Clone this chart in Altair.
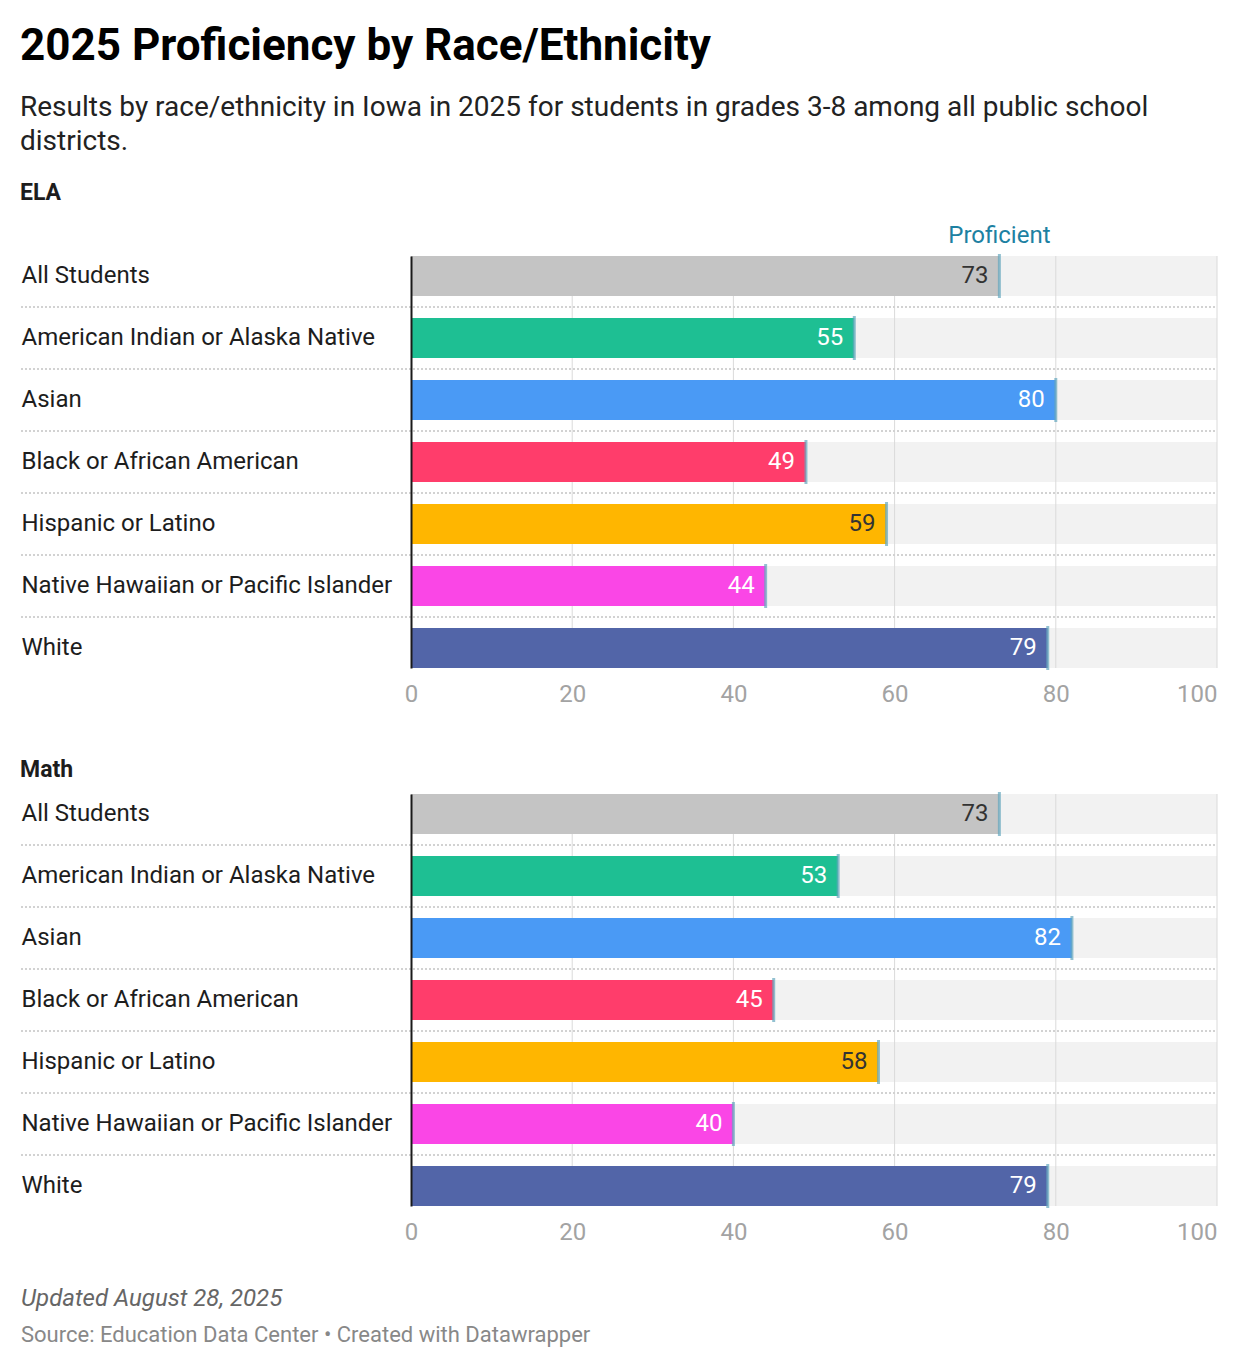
import altair as alt
import pandas as pd

groups = ["All Students", "American Indian or Alaska Native", "Asian",
          "Black or African American", "Hispanic or Latino",
          "Native Hawaiian or Pacific Islander", "White"]
ela_values = [73, 55, 80, 49, 59, 44, 79]
math_values = [73, 53, 82, 45, 58, 40, 79]
bar_colors = ["#c4c4c4", "#1ebf93", "#4a9af5", "#ff3d6b", "#ffb600", "#fa46e6", "#5265a8"]
label_colors = ["#333333", "#ffffff", "#ffffff", "#ffffff", "#333333", "#ffffff", "#ffffff"]
grid_ticks = [20, 40, 60, 80, 100]
axis_ticks = [0, 20, 40, 60, 80, 100]
footer_note = "Updated August 28, 2025"
footer_source = "Source: Education Data Center \u2022 Created with Datawrapper"

W = 806
H = 412
FONT = "Roboto"
MARKER = "#64a6be"


def panel(name, values, show_prof, show_footer):
    df = pd.DataFrame({"group": groups, "value": values, "color": bar_colors,
                       "lcolor": label_colors, "full": [100] * len(groups)})
    grid_df = pd.DataFrame({"g": grid_ticks})
    yenc = alt.Y("group:N", sort=groups,
                 scale=alt.Scale(paddingInner=22 / 62, paddingOuter=0),
                 axis=alt.Axis(title=None, ticks=False, domain=True, domainColor="#1a1a1a",
                               domainWidth=2, labelAlign="left", labelPadding=390,
                               labelFontSize=24, labelColor="#1d1d1d", labelLimit=400,
                               labelFont=FONT, zindex=1))
    xenc_axis = alt.Axis(title=None, values=axis_ticks, grid=False, domain=False, ticks=False,
                         labelFontSize=24, labelColor="#a3a3a3", labelPadding=14, labelFont=FONT,
                         labelAlign={"condition": {"test": "datum.value === 100", "value": "right"},
                                     "value": "center"})
    xscale = alt.Scale(domain=[0, 100], nice=False, zero=True)
    base = alt.Chart(df)
    bg = base.mark_bar(color="#f2f2f2").encode(
        x=alt.X("full:Q", scale=xscale, axis=xenc_axis), y=yenc)
    grid = alt.Chart(grid_df).mark_rule(color="#dadada", strokeWidth=1).encode(
        x=alt.X("g:Q", scale=xscale))
    sep = base.transform_filter(alt.datum.group != groups[-1]).mark_rule(
        color="#d2d2d2", strokeWidth=2, strokeDash=[2, 2], yOffset=31).encode(
        y=alt.Y("group:N", sort=groups), x=alt.value(-390), x2=alt.value(W))
    bars = base.mark_bar().encode(
        x=alt.X("value:Q", scale=xscale), y=alt.Y("group:N", sort=groups),
        color=alt.Color("color:N", scale=None))
    marker = base.mark_tick(color=MARKER, thickness=3, size=44).encode(
        x=alt.X("value:Q", scale=xscale), y=alt.Y("group:N", sort=groups))
    labels = base.mark_text(align="right", baseline="middle", dx=-11, fontSize=24,
                            font=FONT).encode(
        x=alt.X("value:Q", scale=xscale), y=alt.Y("group:N", sort=groups),
        text=alt.Text("value:Q"), color=alt.Color("lcolor:N", scale=None))
    layers = [bg, grid, sep, bars, marker, labels]
    if show_prof:
        prof = base.transform_filter(alt.datum.group == groups[0]).mark_text(
            align="center", baseline="middle", dy=-40, fontSize=24, font=FONT,
            color="#1d81a2").encode(
            x=alt.X("value:Q", scale=xscale), y=alt.Y("group:N", sort=groups),
            text=alt.value("Proficient"))
        layers.append(prof)
    if show_footer:
        foot_df = pd.DataFrame({"note": [footer_note], "source": [footer_source]})
        fbase = alt.Chart(foot_df)
        f1 = fbase.mark_text(align="left", baseline="middle", fontSize=24, fontStyle="italic",
                             font=FONT, color="#666666").encode(
            x=alt.value(-390), y=alt.value(H + 93), text="note:N")
        f2 = fbase.mark_text(align="left", baseline="middle", fontSize=22, font=FONT,
                             color="#888888").encode(
            x=alt.value(-390), y=alt.value(H + 129), text="source:N")
        layers += [f1, f2]
    return alt.layer(*layers).properties(
        width=W, height=H,
        title=alt.TitleParams(name, anchor="start", fontSize=23, fontWeight="bold",
                              font=FONT, color="#1d1d1d", offset=19 if show_prof else 10))


ela = panel("ELA", ela_values, True, False)
math = panel("Math", math_values, False, True)

chart = alt.vconcat(ela, math, spacing=53).properties(
    title=alt.TitleParams(
        "2025 Proficiency by Race/Ethnicity",
        subtitle=["Results by race/ethnicity in Iowa in 2025 for students in grades 3-8 among all public school",
                  "districts."],
        anchor="start", fontSize=44, fontWeight="bold", font=FONT, color="#000000",
        subtitleFontSize=28, subtitleFont=FONT, subtitleColor="#222222",
        subtitleLineHeight=34, subtitlePadding=25, offset=26, dx=0),
    padding={"left": 12, "top": 17, "right": 5, "bottom": 5},
    background="white",
).configure(font=FONT).configure_view(strokeWidth=0, stroke="transparent")

chart.save("out.html", embed_options={"renderer": "svg", "actions": False})
